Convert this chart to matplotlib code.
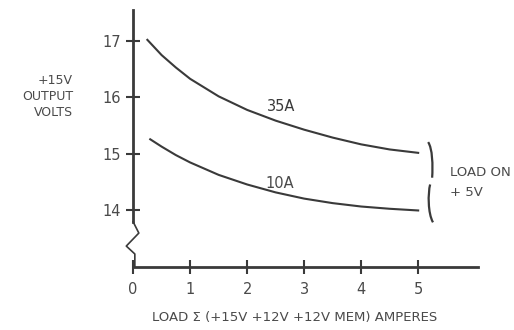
import matplotlib
matplotlib.use("Agg")
import matplotlib.pyplot as plt
from matplotlib.path import Path
from matplotlib.patches import PathPatch

# Data
x35 = [0.25, 0.5, 0.75, 1.0, 1.5, 2.0, 2.5, 3.0, 3.5, 4.0, 4.5, 5.0]
v35 = [17.02, 16.75, 16.53, 16.33, 16.02, 15.78, 15.59, 15.43, 15.29, 15.17, 15.08, 15.02]
x10 = [0.3, 0.5, 0.75, 1.0, 1.5, 2.0, 2.5, 3.0, 3.5, 4.0, 4.5, 5.0]
v10 = [15.26, 15.13, 14.98, 14.85, 14.63, 14.46, 14.32, 14.21, 14.13, 14.07, 14.03, 14.0]
xticks = [0, 1, 2, 3, 4, 5]
yticks = [14, 15, 16, 17]

ink = "#3a3a3a"
txt = "#4a4a4a"

fig = plt.figure(figsize=(5.14, 3.30), dpi=100)
ax = fig.add_axes([0.259, 0.191, 0.671, 0.779])
ax.set_xlim(0, 6.05)
ax.set_ylim(13.0, 17.55)

for s in ["top", "right", "left"]:
    ax.spines[s].set_visible(False)
ax.spines["bottom"].set_color(ink)
ax.spines["bottom"].set_linewidth(2)

ax.plot(x35, v35, color=ink, lw=1.5)
ax.plot(x10, v10, color=ink, lw=1.5)

# y axis line with break
ax.plot([0, 0], [13.8, 17.55], color=ink, lw=2, clip_on=False)
ax.plot([0, 0.1, -0.12, 0.03, 0.03], [13.8, 13.6, 13.37, 13.23, 13.0],
        color=ink, lw=1.2, clip_on=False)

ax.set_xticks(xticks)
ax.set_xticklabels([str(t) for t in xticks])
ax.set_yticks(yticks)
ax.set_yticklabels([str(t) for t in yticks])
ax.tick_params(axis="both", direction="inout", length=10, width=1.5,
               color=ink, labelcolor=txt, labelsize=10.5)
ax.tick_params(axis="x", pad=6)
ax.tick_params(axis="y", pad=4)

ax.text(2.6, 15.84, "35A", color=ink, fontsize=10.5, ha="center", va="center")
ax.text(2.58, 14.47, "10A", color=txt, fontsize=10.5, ha="center", va="center")

# hand-drawn brace (two strokes)
verts = [(5.175, 15.21), (5.25, 15.1), (5.26, 14.8), (5.245, 14.58),
         (5.21, 14.46), (5.17, 14.3), (5.17, 13.95), (5.26, 13.79)]
codes = [Path.MOVETO, Path.CURVE4, Path.CURVE4, Path.CURVE4,
         Path.MOVETO, Path.CURVE4, Path.CURVE4, Path.CURVE4]
ax.add_patch(PathPatch(Path(verts, codes), facecolor="none", edgecolor=ink,
                       lw=1.6, clip_on=False))

ax.text(5.55, 14.68, "LOAD ON", color=txt, fontsize=9.5, ha="left", va="center")
ax.text(5.55, 14.32, "+ 5V", color=txt, fontsize=9.5, ha="left", va="center")

fig.text(73 / 514, 1 - 97 / 330, "+15V\nOUTPUT\nVOLTS", color=txt, fontsize=9,
         ha="right", va="center", linespacing=1.3)
fig.text(295 / 514, 1 - 318 / 330, "LOAD \u03a3 (+15V +12V +12V MEM) AMPERES",
         color=txt, fontsize=9.5, ha="center", va="center")

fig.savefig("out.png", dpi=100)
